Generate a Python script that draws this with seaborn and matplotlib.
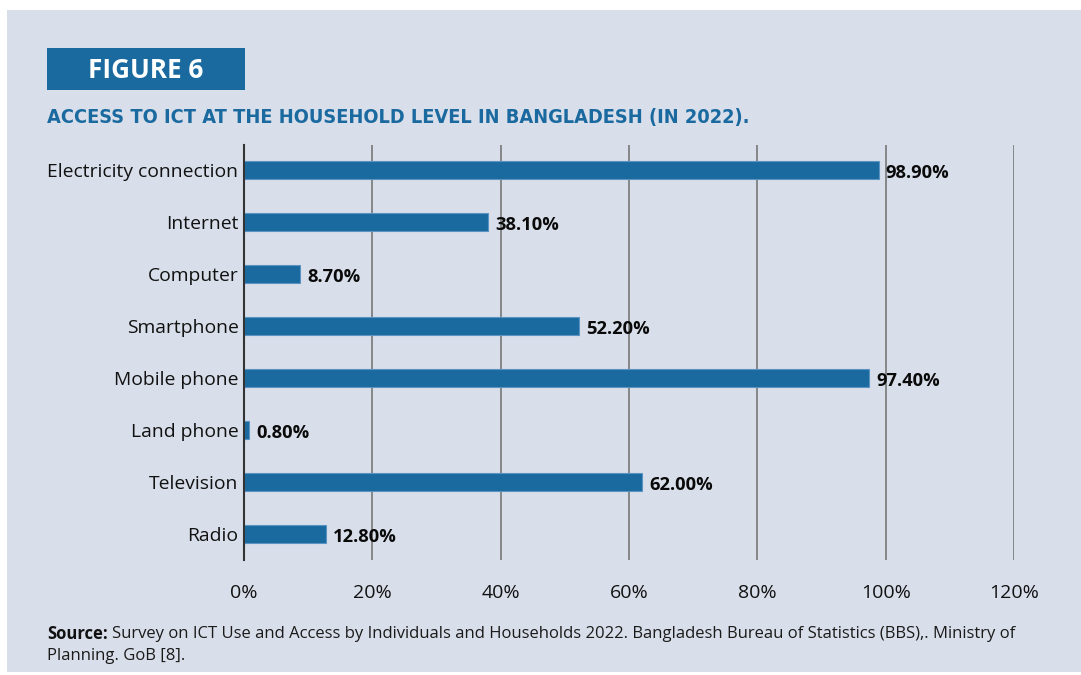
import pandas as pd
import matplotlib.pyplot as plt
import seaborn as sns
from matplotlib.patches import Rectangle
from matplotlib import font_manager as fm

# data
categories = ["Electricity connection", "Internet", "Computer", "Smartphone",
              "Mobile phone", "Land phone", "Television", "Radio"]
values = [98.9, 38.1, 8.7, 52.2, 97.4, 0.8, 62.0, 12.8]
x_ticks = [0, 20, 40, 60, 80, 100, 120]

bg = "#d9dfea"
blue = "#1a6aa0"
W, H = 1081, 675

sns.set_style("white", {"axes.facecolor": bg, "figure.facecolor": "white"})
plt.rcParams['font.family'] = ['Open Sans', 'DejaVu Sans']

installed = {f.name for f in fm.fontManager.ttflist}
narrow = "Liberation Sans Narrow" if "Liberation Sans Narrow" in installed else "DejaVu Sans"

df = pd.DataFrame({"Category": categories, "Value": values})

fig = plt.figure(figsize=(W / 100, H / 100), dpi=100)
# light panel behind everything
fig.patches.append(Rectangle((7 / W, 3 / H), 1, 662 / H, transform=fig.transFigure,
                             facecolor=bg, edgecolor="none", zorder=0))

ax = fig.add_axes([244 / W, 1 - 560 / H, (1014 - 244) / W, (560 - 145) / H])
ax.set_zorder(3)
ax.set_facecolor(bg)
sns.barplot(data=df, y="Category", x="Value", orient="h", color=blue,
            width=0.35, saturation=1, ax=ax, zorder=3,
            edgecolor="#5b93c2", linewidth=0.8)

ax.set_xlim(0, 120)
ax.set_ylim(7.5, -0.48)
ax.set_xticks(x_ticks)
ax.set_xticklabels([f"{t}%" for t in x_ticks], fontsize=14, color="#111111")
ax.tick_params(axis="x", length=0, pad=17)
ax.tick_params(axis="y", length=0, pad=4, labelsize=13.9, labelcolor="#111111")
ax.set_xlabel("")
ax.set_ylabel("")
ax.grid(axis="x", color="#7f7f7f", linewidth=1.3, zorder=1)
for side in ["top", "right", "bottom"]:
    ax.spines[side].set_visible(False)
ax.spines["left"].set_color("#333333")
ax.spines["left"].set_linewidth(1.5)
ax.spines["left"].set_zorder(4)

for i, v in enumerate(values):
    ax.text(v + 1.1, i + 0.05, f"{v:.2f}%", va="center", ha="left",
            fontsize=13.2, fontweight="bold", color="#0a0a0a", zorder=5)

renderer = fig.canvas.get_renderer()


def fit_width(txt, target_px):
    # shrink/grow font so the text spans the same width as in the reference
    w = txt.get_window_extent(renderer).width
    txt.set_fontsize(txt.get_fontsize() * target_px / w)


# header box and title
fig.patches.append(Rectangle((47 / W, 1 - 90 / H), 198 / W, 42 / H,
                             transform=fig.transFigure, facecolor=blue, edgecolor="none", zorder=2))
fig.text(146 / W, 1 - 70 / H, "FIGURE 6", ha="center", va="center",
         fontsize=18.8, fontweight="bold", color="white")
title = fig.text(47 / W, 1 - 118 / H, "ACCESS TO ICT AT THE HOUSEHOLD LEVEL IN BANGLADESH (IN 2022).",
                 ha="left", va="center", fontsize=20, fontweight="bold", color=blue,
                 family=[narrow, "DejaVu Sans"], fontstretch="condensed")
fit_width(title, 701)

# source note
src_bold = fig.text(47 / W, 1 - 634 / H, "Source:", ha="left", va="center",
                    fontsize=12, fontweight="bold", color="#111111")
bw = src_bold.get_window_extent(renderer).width
src = fig.text((47 + bw + 4) / W, 1 - 634 / H,
               "Survey on ICT Use and Access by Individuals and Households 2022. "
               "Bangladesh Bureau of Statistics (BBS),. Ministry of",
               ha="left", va="center", fontsize=11.5, color="#1a1a1a")
fit_width(src, 1018 - 47 - bw - 4)
fig.text(47 / W, 1 - 656 / H, "Planning. GoB [8].", ha="left", va="center",
         fontsize=src.get_fontsize(), color="#1a1a1a")

fig.savefig("out.png", dpi=100)
